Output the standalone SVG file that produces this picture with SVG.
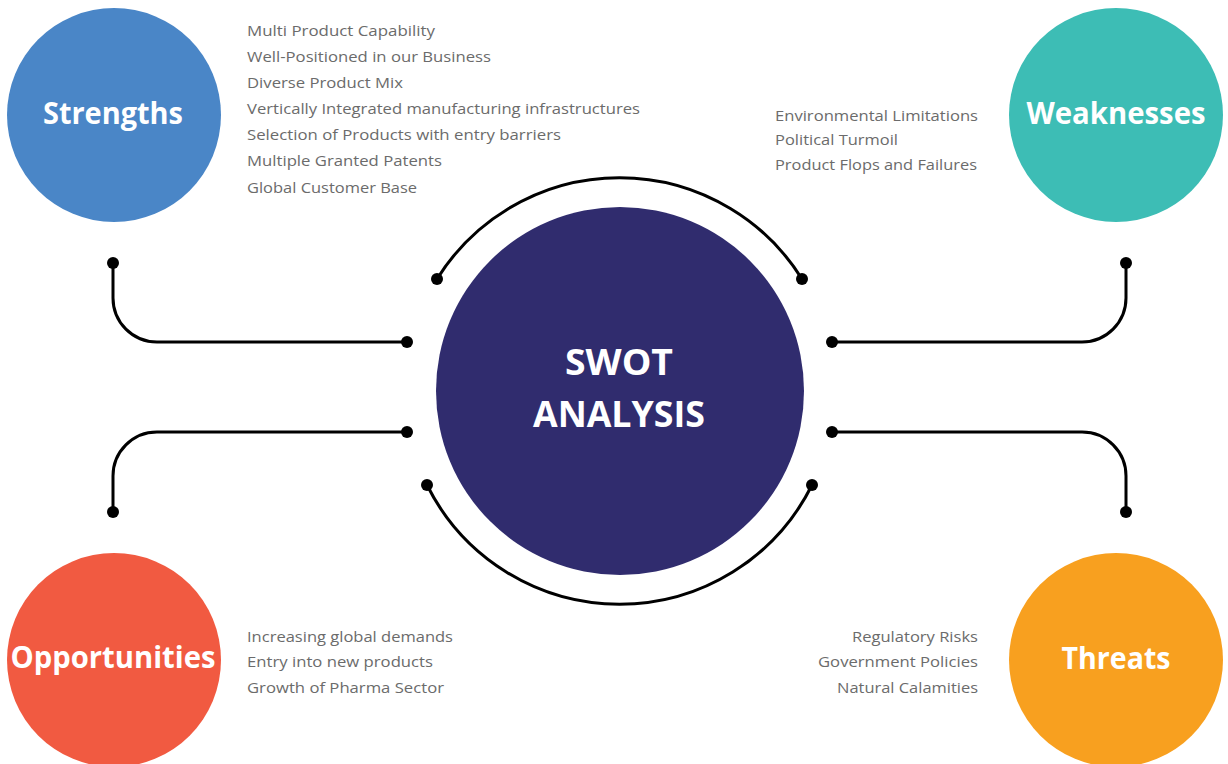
<svg xmlns="http://www.w3.org/2000/svg" width="1228" height="764" viewBox="0 0 1228 764">
  <style>
    .title { font-family: "Open Sans", "Noto Sans", sans-serif; font-weight: 700; fill: #ffffff; text-anchor: middle; }
    .item { font-family: "Open Sans", "Noto Sans", sans-serif; font-size: 15px; fill: #6b6b6b; }
    .wire { fill: none; stroke: #000000; stroke-width: 3; }
    .dot { fill: #000000; }
  </style>
  <rect width="1228" height="764" fill="#ffffff"/>

  <!-- connectors -->
  <g id="connectors">
    <path class="wire" d="M437,279 A215,215 0 0 1 802,279"/>
    <path class="wire" d="M427,485 A215,215 0 0 0 812,485"/>
    <path class="wire" d="M113,263 V298 A44,44 0 0 0 157,342 H407"/>
    <path class="wire" d="M113,512 V476 A44,44 0 0 1 157,432 H407"/>
    <path class="wire" d="M1126,263 V298 A44,44 0 0 1 1082,342 H832"/>
    <path class="wire" d="M1126,512 V476 A44,44 0 0 0 1082,432 H832"/>
    <circle class="dot" cx="437" cy="279" r="6"/>
    <circle class="dot" cx="802" cy="279" r="6"/>
    <circle class="dot" cx="427" cy="485" r="6"/>
    <circle class="dot" cx="812" cy="485" r="6"/>
    <circle class="dot" cx="113" cy="263" r="6"/>
    <circle class="dot" cx="407" cy="342" r="6"/>
    <circle class="dot" cx="113" cy="512" r="6"/>
    <circle class="dot" cx="407" cy="432" r="6"/>
    <circle class="dot" cx="1126" cy="263" r="6"/>
    <circle class="dot" cx="832" cy="342" r="6"/>
    <circle class="dot" cx="1126" cy="512" r="6"/>
    <circle class="dot" cx="832" cy="432" r="6"/>
  </g>

  <!-- centre -->
  <g id="swot">
    <circle cx="620" cy="391" r="184" fill="#302c6e"/>
    <text class="title" x="619" y="375" font-size="35" textLength="108" lengthAdjust="spacingAndGlyphs">SWOT</text>
    <text class="title" x="619" y="427" font-size="35" textLength="172" lengthAdjust="spacingAndGlyphs">ANALYSIS</text>
  </g>

  <!-- strengths -->
  <g id="strengths">
    <circle cx="114" cy="115" r="107" fill="#4a86c7"/>
    <text class="title" x="113" y="124" font-size="31" textLength="140" lengthAdjust="spacingAndGlyphs">Strengths</text>
    <text class="item" x="247" y="36" textLength="188" lengthAdjust="spacingAndGlyphs">Multi Product Capability</text>
    <text class="item" x="247" y="62" textLength="244" lengthAdjust="spacingAndGlyphs">Well-Positioned in our Business</text>
    <text class="item" x="247" y="88" textLength="156" lengthAdjust="spacingAndGlyphs">Diverse Product Mix</text>
    <text class="item" x="247" y="114" textLength="393" lengthAdjust="spacingAndGlyphs">Vertically Integrated manufacturing infrastructures</text>
    <text class="item" x="247" y="140" textLength="314" lengthAdjust="spacingAndGlyphs">Selection of Products with entry barriers</text>
    <text class="item" x="247" y="166" textLength="195" lengthAdjust="spacingAndGlyphs">Multiple Granted Patents</text>
    <text class="item" x="247" y="193" textLength="170" lengthAdjust="spacingAndGlyphs">Global Customer Base</text>
  </g>

  <!-- weaknesses -->
  <g id="weaknesses">
    <circle cx="1116" cy="115" r="107" fill="#3dbdb5"/>
    <text class="title" x="1116" y="124" font-size="31" textLength="179" lengthAdjust="spacingAndGlyphs">Weaknesses</text>
    <text class="item" x="775" y="121" textLength="203" lengthAdjust="spacingAndGlyphs">Environmental Limitations</text>
    <text class="item" x="775" y="145" textLength="123" lengthAdjust="spacingAndGlyphs">Political Turmoil</text>
    <text class="item" x="775" y="170" textLength="202" lengthAdjust="spacingAndGlyphs">Product Flops and Failures</text>
  </g>

  <!-- opportunities -->
  <g id="opportunities">
    <circle cx="114" cy="660" r="107" fill="#f15a41"/>
    <text class="title" x="113" y="668" font-size="31" textLength="205" lengthAdjust="spacingAndGlyphs">Opportunities</text>
    <text class="item" x="247" y="642" textLength="206" lengthAdjust="spacingAndGlyphs">Increasing global demands</text>
    <text class="item" x="247" y="667" textLength="186" lengthAdjust="spacingAndGlyphs">Entry into new products</text>
    <text class="item" x="247" y="693" textLength="197" lengthAdjust="spacingAndGlyphs">Growth of Pharma Sector</text>
  </g>

  <!-- threats -->
  <g id="threats">
    <circle cx="1116" cy="660" r="107" fill="#f8a01f"/>
    <text class="title" x="1116" y="669" font-size="31" textLength="109" lengthAdjust="spacingAndGlyphs">Threats</text>
    <text class="item" x="978" y="642" text-anchor="end" textLength="126" lengthAdjust="spacingAndGlyphs">Regulatory Risks</text>
    <text class="item" x="978" y="667" text-anchor="end" textLength="160" lengthAdjust="spacingAndGlyphs">Government Policies</text>
    <text class="item" x="978" y="693" text-anchor="end" textLength="141" lengthAdjust="spacingAndGlyphs">Natural Calamities</text>
  </g>
</svg>
